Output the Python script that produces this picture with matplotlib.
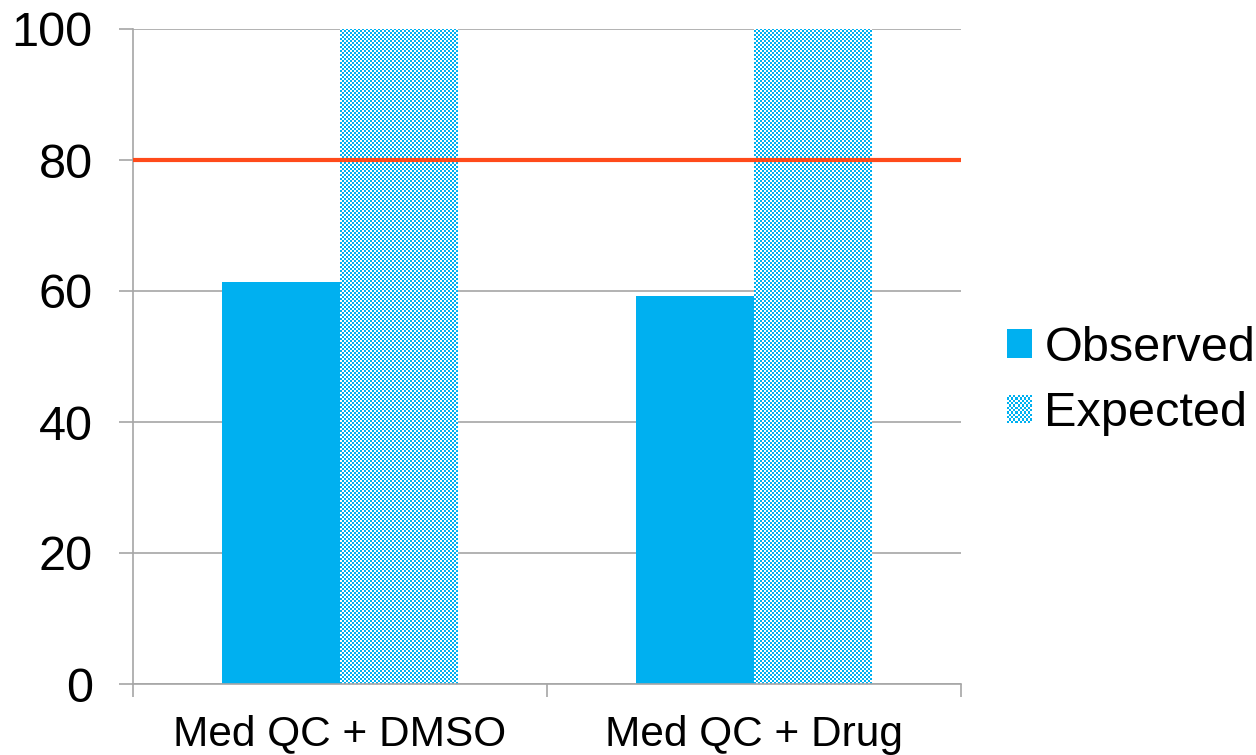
import numpy as np
import matplotlib
matplotlib.use('Agg')
import matplotlib.pyplot as plt
from matplotlib.patches import Rectangle, Patch
from matplotlib.colors import to_rgb

categories = ['Med QC + DMSO', 'Med QC + Drug']
observed = [61.3, 59.2]
expected = [100, 100]
threshold = 80
series_names = ['Observed', 'Expected']
y_ticks = [0, 20, 40, 60, 80, 100]

BLUE = '#00B0F0'
GRID = '#A6A6A6'
RED = '#FF4A1A'
BAR_W = 0.285

plt.rcParams['font.family'] = ['Liberation Sans', 'DejaVu Sans']


def checker(nx, ny, color, cell=2):
    """RGB array (one entry per pixel) of a checkerboard in colour and white."""
    c = np.array(to_rgb(color))
    w = np.ones(3)
    idx = (np.add.outer(np.arange(ny) // cell, np.arange(nx) // cell) % 2).astype(bool)
    return np.where(idx[:, :, None], w, c)


class CheckerHandler:
    """Legend handle drawn as a small checkerboard of rectangles."""
    def legend_artist(self, legend, orig_handle, fontsize, handlebox):
        x0, y0 = -handlebox.xdescent, -handlebox.ydescent
        w, h = handlebox.width, handlebox.height
        n = 12
        cw, ch = w / n, h / n
        for i in range(n):
            for j in range(n):
                col = BLUE if (i + j) % 2 == 0 else 'white'
                r = Rectangle((x0 + i * cw, y0 + j * ch), cw, ch,
                              facecolor=col, edgecolor='none', linewidth=0)
                handlebox.add_artist(r)
        return r


fig = plt.figure(figsize=(12.56, 7.55), dpi=100)
ax = fig.add_axes([133 / 1256, 1 - 684 / 755, (961 - 133) / 1256, (684 - 29) / 755])
ax.set_xlim(-0.5, len(categories) - 0.5)
ax.set_ylim(0, 100)

x = np.arange(len(categories))
ax.bar(x - BAR_W / 2, observed, width=BAR_W, color=BLUE, zorder=2)

# expected bars: checkerboard fill sized from the bar geometry in pixels
exp_bars = ax.bar(x + BAR_W / 2, expected, width=BAR_W, color='none', zorder=2)
for b in exp_bars:
    bx, by, bw, bh = b.get_x(), b.get_y(), b.get_width(), b.get_height()
    (px0, py0), (px1, py1) = ax.transData.transform([(bx, by), (bx + bw, by + bh)])
    nx, ny = int(round(px1 - px0)), int(round(py1 - py0))
    ax.imshow(checker(nx, ny, BLUE), extent=(bx, bx + bw, by, by + bh),
              aspect='auto', interpolation='nearest', zorder=2, origin='lower')

ax.axhline(threshold, color=RED, linewidth=3, zorder=3)

ax.set_xlim(-0.5, len(categories) - 0.5)
ax.set_ylim(0, 100)
ax.set_yticks(y_ticks)
ax.yaxis.grid(True, color=GRID, linewidth=1.2, zorder=0)
ax.set_axisbelow(True)

ax.set_xticks(x)
ax.set_xticklabels(categories, fontsize=30.5)
ax.set_xticks(np.arange(len(categories) + 1) - 0.5, minor=True)
ax.tick_params(axis='x', which='major', length=0, pad=22)
ax.tick_params(axis='x', which='minor', length=9, width=1.2, color=GRID)
ax.tick_params(axis='y', length=10, width=1.2, color=GRID, pad=19, labelsize=35)

for side in ['top', 'right']:
    ax.spines[side].set_visible(False)
for side in ['left', 'bottom']:
    ax.spines[side].set_color(GRID)
    ax.spines[side].set_linewidth(1.2)

handles = [Patch(facecolor=BLUE, edgecolor='none'), Patch(facecolor='white')]
fig.legend(handles, series_names, loc='center left', fontsize=35,
           bbox_to_anchor=(1007 / 1256, 1 - 381 / 755), frameon=False,
           handlelength=0.52, handleheight=0.52, handletextpad=0.25,
           labelspacing=0.42, borderpad=0, borderaxespad=0,
           handler_map={handles[1]: CheckerHandler()})

fig.savefig('out.png', dpi=100)
